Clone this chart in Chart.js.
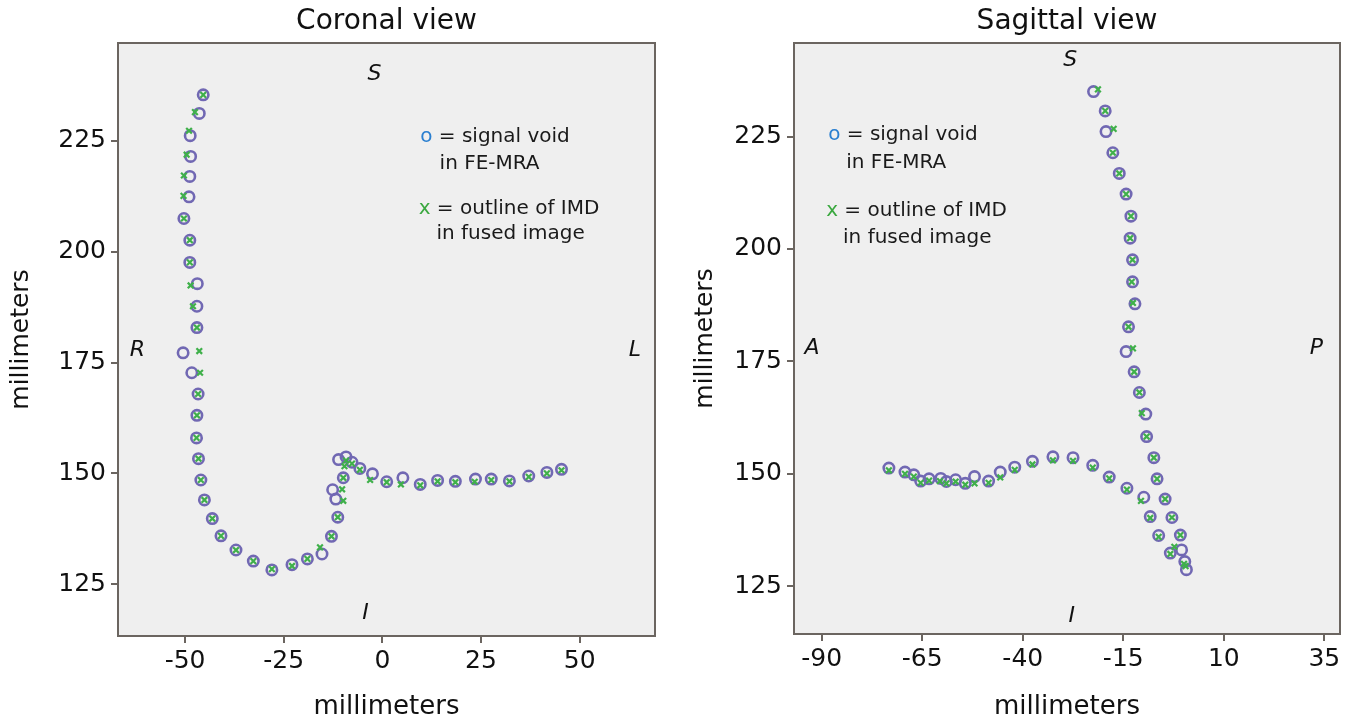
<!DOCTYPE html>
<html lang="en">
<head>
  <meta charset="UTF-8">
  <title>Coronal and sagittal view</title>
  <script src="https://cdn.jsdelivr.net/npm/chart.js"></script>
  <style>
    * { box-sizing: border-box; }
    body { margin: 0; background: #fff; width: 1358px; height: 726px; overflow: hidden; }
    .panel { position: absolute; top: 0; height: 726px; }
    #coronalBox { left: 0; width: 680px; }
    #sagittalBox { left: 680px; width: 678px; }
  </style>
</head>
<body>
  <div class="panel" id="coronalBox"><canvas id="coronalChart"></canvas></div>
  <div class="panel" id="sagittalBox"><canvas id="sagittalChart"></canvas></div>

  <script>
    // ---- coronal view (mm) ----
    const coronalCircleX = [-45.4, -46.4, -48.7, -48.6, -48.8, -49.0, -50.3, -48.8, -48.8, -46.9, -47.0, -47.0, -50.5, -48.3, -46.7, -47.0, -47.1, -46.6, -46.0, -45.1, -43.1, -40.9, -37.1, -32.7, -28.0, -22.9, -19.0, -15.3, -12.9, -11.3, -11.8, -12.6, -9.9, -11.1, -9.2, -7.7, -5.7, -2.5, 1.1, 5.2, 9.6, 14.0, 18.5, 23.6, 27.6, 32.2, 37.1, 41.7, 45.4];
    const coronalCircleY = [235.4, 231.2, 226.2, 221.5, 217.0, 212.4, 207.5, 202.6, 197.6, 192.8, 187.7, 182.9, 177.2, 172.7, 167.9, 163.1, 158.0, 153.3, 148.5, 144.0, 139.8, 135.9, 132.7, 130.2, 128.2, 129.4, 130.7, 131.8, 135.8, 140.1, 144.2, 146.3, 149.0, 153.1, 153.7, 152.5, 151.1, 149.9, 148.1, 149.0, 147.5, 148.4, 148.2, 148.7, 148.7, 148.3, 149.4, 150.2, 150.9];
    const coronalCrossX = [-45.4, -47.5, -49.0, -49.6, -50.3, -50.4, -50.3, -48.8, -48.8, -48.6, -48.0, -47.0, -46.4, -46.2, -46.7, -47.0, -47.1, -46.6, -46.0, -45.1, -43.1, -40.9, -37.1, -32.7, -28.0, -22.9, -19.0, -15.8, -12.9, -11.3, -9.9, -10.2, -9.9, -9.6, -9.2, -7.7, -5.7, -3.1, 1.1, 4.7, 9.6, 14.0, 18.5, 23.4, 27.6, 32.2, 37.1, 41.7, 45.4];
    const coronalCrossY = [235.4, 231.5, 227.3, 221.9, 217.2, 212.6, 207.5, 202.6, 197.6, 192.4, 187.7, 182.9, 177.6, 172.7, 167.9, 163.1, 158.0, 153.3, 148.5, 144.0, 139.8, 135.9, 132.7, 130.2, 128.4, 129.1, 130.7, 133.3, 135.8, 140.1, 143.8, 146.4, 149.0, 151.6, 152.9, 152.2, 150.8, 148.5, 148.0, 147.5, 147.3, 148.2, 148.0, 148.1, 148.5, 148.2, 149.2, 150.0, 150.7];
    const coronalXTicks = [-50, -25, 0, 25, 50];
    const coronalYTicks = [125, 150, 175, 200, 225];

    // ---- sagittal view (mm) ----
    const sagittalCircleX = [-22.4, -19.5, -19.3, -17.6, -16.0, -14.3, -13.1, -13.3, -12.7, -12.7, -12.1, -13.7, -14.3, -12.3, -11.0, -9.4, -9.2, -7.4, -6.6, -4.6, -2.9, -0.8, -0.5, 0.3, 0.7,
                             -73.3, -69.3, -67.1, -65.4, -63.3, -60.4, -59.0, -56.7, -54.3, -52.0, -48.5, -45.6, -42.0, -37.6, -32.5, -27.5, -22.6, -18.5, -14.1, -9.9, -8.3, -6.2, -3.3];
    const sagittalCircleY = [235.0, 230.7, 226.1, 221.4, 216.8, 212.2, 207.3, 202.4, 197.6, 192.7, 187.8, 182.7, 177.2, 172.7, 168.1, 163.3, 158.3, 153.6, 148.9, 144.4, 140.3, 136.4, 133.1, 130.5, 128.7,
                             151.3, 150.4, 149.8, 148.4, 148.9, 149.0, 148.3, 148.7, 147.9, 149.4, 148.4, 150.4, 151.5, 152.8, 153.8, 153.6, 151.9, 149.3, 146.8, 144.8, 140.5, 136.3, 132.4];
    const sagittalCrossX = [-21.3, -19.5, -17.4, -17.6, -16.0, -14.3, -13.1, -13.3, -12.7, -12.9, -12.6, -13.7, -12.6, -12.3, -11.0, -10.4, -9.2, -7.4, -6.6, -4.6, -2.9, -0.8, -2.3, 0.1, 0.5,
                            -73.3, -69.3, -67.1, -65.4, -63.3, -60.6, -59.0, -56.7, -54.3, -52.0, -48.5, -45.6, -42.0, -37.6, -32.5, -27.5, -22.6, -18.5, -14.1, -10.6, -8.3, -6.2, -3.3];
    const sagittalCrossY = [235.5, 230.7, 226.7, 221.4, 216.8, 212.2, 207.3, 202.4, 197.6, 192.7, 188.0, 182.7, 177.9, 172.7, 168.1, 163.5, 158.3, 153.6, 148.9, 144.4, 140.3, 136.4, 133.8, 130.0, 129.5,
                            150.8, 150.0, 149.4, 148.0, 148.5, 148.4, 147.9, 148.3, 147.6, 147.9, 148.0, 149.2, 150.9, 152.1, 153.0, 152.9, 151.4, 149.0, 146.5, 144.0, 140.2, 136.0, 132.2];
    const sagittalXTicks = [-90, -65, -40, -15, 10, 35];
    const sagittalYTicks = [125, 150, 175, 200, 225];

    const coronalMarks = [
      { text: 'S', x: -2.0, y: 240.0 },
      { text: 'R', x: -62.1, y: 177.8 },
      { text: 'L', x: 64.0, y: 177.8 },
      { text: 'I', x: -4.3, y: 118.4 }
    ];
    const sagittalMarks = [
      { text: 'S', x: -28.2, y: 242.0 },
      { text: 'A', x: -92.4, y: 178.0 },
      { text: 'P', x: 33.0, y: 178.0 },
      { text: 'I', x: -27.8, y: 118.3 }
    ];
    const coronalLegendPos = [[9.6, 226.0], [14.5, 219.8], [9.2, 209.6], [13.7, 204.0]];
    const sagittalLegendPos = [[-88.4, 225.3], [-83.9, 219.1], [-88.9, 208.4], [-84.7, 202.4]];

    const FONT = "'DejaVu Sans', 'Liberation Sans', sans-serif";
    const axisColor = '#6b6560';
    const circleColor = '#7168b3';
    const crossColor = '#3fb04a';

    function toPoints(xs, ys) {
      return xs.map((x, i) => ({ x: x, y: ys[i] }));
    }

    const framePlugin = {
      id: 'frame',
      beforeDraw(chart) {
        const a = chart.chartArea;
        const ctx = chart.ctx;
        ctx.save();
        ctx.fillStyle = '#efefef';
        ctx.fillRect(a.left, a.top, a.right - a.left, a.bottom - a.top);
        ctx.restore();
      },
      afterDatasetsDraw(chart, args, opts) {
        const a = chart.chartArea;
        const ctx = chart.ctx;
        const xs = chart.scales.x, ys = chart.scales.y;
        ctx.save();
        // top and right side of the box
        ctx.strokeStyle = axisColor;
        ctx.lineWidth = 2;
        ctx.beginPath();
        ctx.moveTo(a.left, a.top);
        ctx.lineTo(a.right, a.top);
        ctx.lineTo(a.right, a.bottom);
        ctx.stroke();

        // S / I / R / L letters
        ctx.fillStyle = '#111';
        ctx.font = 'italic 22px ' + FONT;
        ctx.textAlign = 'center';
        ctx.textBaseline = 'middle';
        (opts.marks || []).forEach(m => {
          ctx.fillText(m.text, xs.getPixelForValue(m.x), ys.getPixelForValue(m.y));
        });

        // legend text
        const lp = opts.legendPos;
        ctx.font = '20px ' + FONT;
        ctx.textAlign = 'left';
        const lines = [
          { sym: 'o', color: '#2a7fd0', text: ' = signal void' },
          { text: 'in FE-MRA' },
          { sym: 'x', color: '#3aa83f', text: ' = outline of IMD' },
          { text: 'in fused image' }
        ];
        lines.forEach((ln, i) => {
          let px = xs.getPixelForValue(lp[i][0]);
          const py = ys.getPixelForValue(lp[i][1]);
          if (ln.sym) {
            ctx.fillStyle = ln.color;
            ctx.fillText(ln.sym, px, py);
            px += ctx.measureText(ln.sym).width;
          }
          ctx.fillStyle = '#1a1a1a';
          ctx.fillText(ln.text, px, py);
        });
        ctx.restore();
      }
    };

    function makeChart(id, cfg) {
      return new Chart(document.getElementById(id), {
        type: 'scatter',
        data: {
          datasets: [
            {
              label: 'outline of IMD in fused image',
              data: toPoints(cfg.crossX, cfg.crossY),
              pointStyle: 'crossRot',
              pointRadius: 4,
              borderWidth: 2.2,
              borderColor: crossColor,
              backgroundColor: crossColor,
              order: 0
            },
            {
              label: 'signal void in FE-MRA',
              data: toPoints(cfg.circleX, cfg.circleY),
              pointStyle: 'circle',
              pointRadius: 5.2,
              borderWidth: 2.6,
              borderColor: circleColor,
              backgroundColor: 'rgba(0,0,0,0)',
              order: 1
            }
          ]
        },
        options: {
          responsive: true,
          maintainAspectRatio: false,
          animation: false,
          events: [],
          layout: { padding: { top: 0, right: cfg.rightPad, bottom: 0, left: 0 } },
          plugins: {
            legend: { display: false },
            tooltip: { enabled: false },
            title: {
              display: true,
              text: cfg.title,
              fullSize: false,
              color: '#111',
              font: { family: FONT, size: 28, weight: 'normal' },
              padding: { top: 5, bottom: 4.4 }
            },
            frame: { marks: cfg.marks, legendPos: cfg.legendPos }
          },
          scales: {
            x: {
              type: 'linear',
              min: cfg.xMin,
              max: cfg.xMax,
              afterBuildTicks: s => { s.ticks = cfg.xTicks.map(v => ({ value: v })); },
              afterFit: s => { s.height = cfg.xAxisH; },
              grid: { drawOnChartArea: false, drawTicks: true, tickLength: 7, color: axisColor, lineWidth: 2 },
              border: { display: true, color: axisColor, width: 2 },
              ticks: { color: '#111', font: { family: FONT, size: 25 }, padding: 3, maxRotation: 0, autoSkip: false },
              title: { display: true, text: 'millimeters', color: '#111', font: { family: FONT, size: 26 }, padding: { top: 0, bottom: 3 } }
            },
            y: {
              type: 'linear',
              min: cfg.yMin,
              max: cfg.yMax,
              afterBuildTicks: s => { s.ticks = cfg.yTicks.map(v => ({ value: v })); },
              afterFit: s => { s.width = cfg.yAxisW; },
              grid: { drawOnChartArea: false, drawTicks: true, tickLength: 7, color: axisColor, lineWidth: 2 },
              border: { display: true, color: axisColor, width: 2 },
              ticks: { color: '#111', font: { family: FONT, size: 25 }, padding: 5, autoSkip: false },
              title: { display: true, text: 'millimeters', color: '#111', font: { family: FONT, size: 25 }, padding: { top: cfg.yTitlePad, bottom: 0 } }
            }
          }
        },
        plugins: [framePlugin]
      });
    }

    makeChart('coronalChart', {
      title: 'Coronal view',
      circleX: coronalCircleX, circleY: coronalCircleY,
      crossX: coronalCrossX, crossY: coronalCrossY,
      xTicks: coronalXTicks, yTicks: coronalYTicks,
      xMin: -67.0, xMax: 69.1, yMin: 113.3, yMax: 247.1,
      rightPad: 25, xAxisH: 90, yAxisW: 118, yTitlePad: 6,
      marks: coronalMarks, legendPos: coronalLegendPos
    });

    makeChart('sagittalChart', {
      title: 'Sagittal view',
      circleX: sagittalCircleX, circleY: sagittalCircleY,
      crossX: sagittalCrossX, crossY: sagittalCrossY,
      xTicks: sagittalXTicks, yTicks: sagittalYTicks,
      xMin: -96.9, xMax: 38.9, yMin: 114.4, yMax: 245.8,
      rightPad: 18, xAxisH: 92, yAxisW: 114, yTitlePad: 10,
      marks: sagittalMarks, legendPos: sagittalLegendPos
    });
  </script>
</body>
</html>
